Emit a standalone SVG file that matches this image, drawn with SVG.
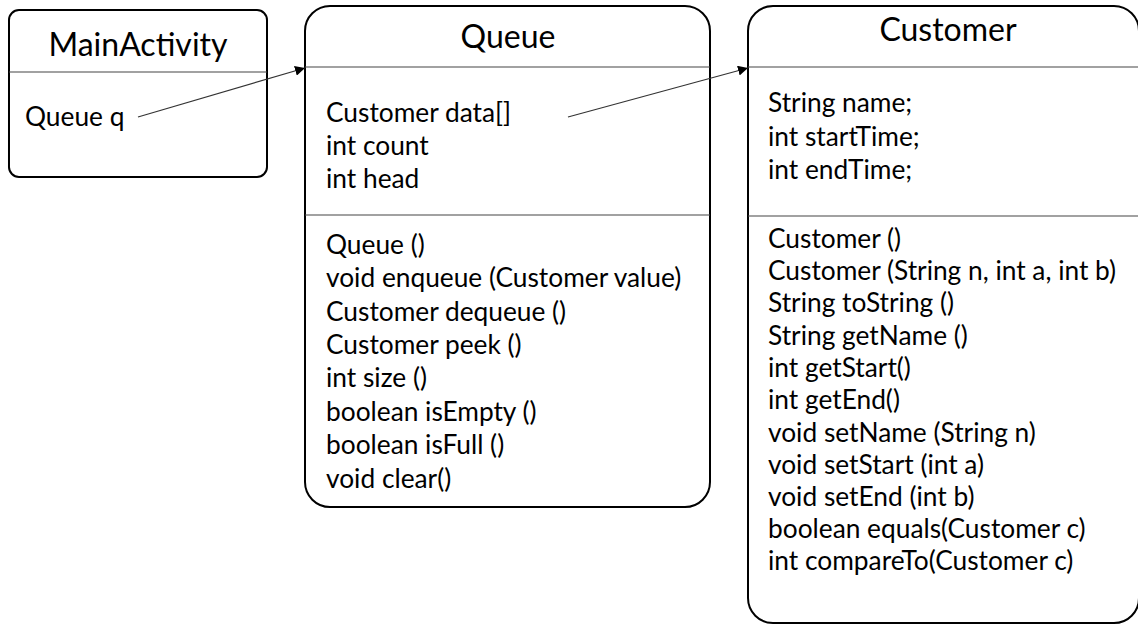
<svg xmlns="http://www.w3.org/2000/svg" width="1138" height="626" viewBox="0 0 1138 626">
<style>
.box{fill:#fff;stroke:#000;stroke-width:2}
.div{stroke:#444;stroke-width:1.2}
.t{font-family:Lato,"Open Sans",sans-serif;fill:#000}
.title{font-size:32px;text-anchor:middle}
.q{font-size:26.3px}
.c{font-size:26.3px}
.conn{stroke:#333;stroke-width:1.2;fill:none;marker-end:url(#ah)}
</style>
<defs>
<marker id="ah" viewBox="0 0 10 10" refX="10" refY="5" markerWidth="10" markerHeight="10" markerUnits="userSpaceOnUse" orient="auto">
<path d="M0,0 L10,5 L0,10 z" fill="#000"/>
</marker>
</defs>
<rect width="1138" height="626" fill="#fff"/>
<g id="MainActivity">
<rect class="box" x="9" y="10" width="258" height="167" rx="10"/>
<line class="div" x1="9" y1="72" x2="267" y2="72"/>
<text class="t title" x="138" y="56">MainActivity</text>
<text class="t q" x="25" y="126">Queue q</text>
</g>
<g id="Queue">
<rect class="box" x="305" y="6" width="405" height="501" rx="25"/>
<line class="div" x1="305" y1="67" x2="710" y2="67"/>
<line class="div" x1="305" y1="215" x2="710" y2="215"/>
<text class="t title" x="508" y="48">Queue</text>
<text class="t q" x="326" y="122">Customer data[]</text>
<text class="t q" x="326" y="155">int count</text>
<text class="t q" x="326" y="188">int head</text>
<text class="t q" x="326" y="254">Queue ()</text>
<text class="t q" x="326" y="287">void enqueue (Customer value)</text>
<text class="t q" x="326" y="321">Customer dequeue ()</text>
<text class="t q" x="326" y="354">Customer peek ()</text>
<text class="t q" x="326" y="387">int size ()</text>
<text class="t q" x="326" y="421">boolean isEmpty ()</text>
<text class="t q" x="326" y="454">boolean isFull ()</text>
<text class="t q" x="326" y="488">void clear()</text>
</g>
<g id="Customer">
<rect class="box" x="748" y="6" width="391" height="617" rx="25"/>
<line class="div" x1="748" y1="67" x2="1138" y2="67"/>
<line class="div" x1="748" y1="216" x2="1138" y2="216"/>
<text class="t title" x="948" y="41">Customer</text>
<text class="t c" x="768" y="112">String name;</text>
<text class="t c" x="768" y="146">int startTime;</text>
<text class="t c" x="768" y="179">int endTime;</text>
<text class="t c" x="768" y="248">Customer ()</text>
<text class="t c" x="768" y="280">Customer (String n, int a, int b)</text>
<text class="t c" x="768" y="312">String toString ()</text>
<text class="t c" x="768" y="345">String getName ()</text>
<text class="t c" x="768" y="377">int getStart()</text>
<text class="t c" x="768" y="409">int getEnd()</text>
<text class="t c" x="768" y="442">void setName (String n)</text>
<text class="t c" x="768" y="474">void setStart (int a)</text>
<text class="t c" x="768" y="506">void setEnd (int b)</text>
<text class="t c" x="768" y="538">boolean equals(Customer c)</text>
<text class="t c" x="768" y="570">int compareTo(Customer c)</text>
</g>
<g id="connectors">
<line class="conn" x1="138" y1="117" x2="305" y2="68"/>
<line class="conn" x1="568" y1="117" x2="748" y2="68"/>
</g>
</svg>
